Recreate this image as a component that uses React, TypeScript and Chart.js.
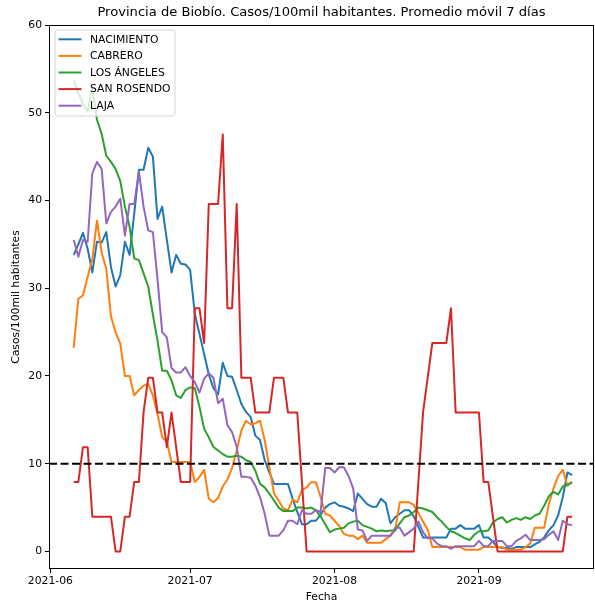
import React, { useEffect, useRef } from "react";
import { Chart, registerables } from "chart.js";

Chart.register(...registerables);

// x values are days counted from 2021-06-01; first data point is 2021-06-06
const FIRST_DAY = 5;
const X_MIN = -0.3;
const X_MAX = 116.7;
const TICK_DAYS = [0, 30, 61, 92];
const TICK_LABELS = ["2021-06", "2021-07", "2021-08", "2021-09"];
const Y_TICKS = [0, 10, 20, 30, 40, 50, 60];
const THRESHOLD = 10;

const TITLE = "Provincia de Biobío. Casos/100mil habitantes. Promedio móvil 7 días";
const X_TITLE = "Fecha";
const Y_TITLE = "Casos/100mil habitantes";

const SERIES_NAMES = ["NACIMIENTO", "CABRERO", "LOS ÁNGELES", "SAN ROSENDO", "LAJA"];
const COLORS = ["#1f77b4", "#ff7f0e", "#2ca02c", "#d62728", "#9467bd"];

const NACIMIENTO = [
  33.8, 35.0, 36.3, 34.5, 31.8, 35.3, 35.2, 36.4, 32.4, 30.2,
  31.5, 35.3, 33.8, 38.5, 43.5, 43.5, 46.0, 45.0, 37.9, 39.3,
  35.5, 31.8, 33.8, 32.8, 32.7, 32.1, 27.1, 24.8, 22.5, 20.2,
  18.6, 17.9, 21.5, 20.0, 19.9, 18.4, 16.8, 15.9, 15.3, 13.2,
  12.7, 10.4, 9.0, 7.7, 7.7, 7.7, 7.7, 6.0, 4.5, 3.1,
  3.1, 3.5, 3.5, 4.2, 5.0, 5.4, 5.6, 5.2, 5.1, 4.9,
  4.6, 6.6, 6.0, 5.4, 5.1, 5.1, 6.0, 5.5, 3.2, 3.9,
  4.3, 4.7, 4.7, 4.0, 2.8, 1.6, 1.6, 1.6, 1.6, 1.6,
  1.6, 2.6, 2.6, 3.0, 2.6, 2.6, 2.6, 3.0, 1.6, 1.6,
  1.1, 0.5, 0.4, 0.4, 0.3, 0.5, 0.5, 0.5, 0.5, 0.8,
  1.1, 1.6, 2.4, 3.0, 4.1, 6.2, 9.0, 8.7,
];

const CABRERO = [
  23.2, 28.8, 29.2, 31.3, 33.3, 37.7, 34.1, 32.2, 26.8, 25.0,
  23.7, 20.0, 20.0, 17.8, 18.4, 18.9, 19.1, 17.8, 15.7, 13.0,
  12.5, 10.2, 10.2, 10.2, 10.2, 10.2, 7.9, 8.5, 9.3, 6.0,
  5.6, 6.1, 7.4, 8.2, 9.5, 11.5, 13.8, 14.9, 14.5, 14.6,
  14.9, 12.7, 9.6, 6.6, 5.8, 4.9, 4.7, 5.9, 5.6, 7.0,
  7.3, 7.9, 7.9, 6.2, 4.3, 4.1, 3.5, 2.9, 2.0, 1.8,
  1.8, 1.4, 1.8, 1.0, 1.0, 1.0, 1.0, 1.4, 1.8, 2.4,
  5.6, 5.6, 5.6, 5.3, 4.4, 3.4, 2.5, 0.5, 0.5, 0.5,
  0.5, 0.5, 0.5, 0.5, 0.2, 0.2, 0.2, 0.2, 0.5, 0.5,
  0.5, 0.5, 0.5, 0.2, 0.2, 0.2, 0.2, 0.5, 0.9, 2.7,
  2.7, 2.7, 5.4, 7.2, 8.6, 9.3, 7.5, 7.9,
];

const LOS_ANGELES = [
  53.7, 52.3, 51.0, 50.1, 53.0, 49.2, 47.6, 45.1, 44.4, 43.6,
  42.2, 39.3, 37.0, 33.4, 33.2, 31.7, 30.2, 27.0, 24.0, 20.6,
  20.6, 19.5, 17.8, 17.5, 18.4, 18.7, 18.6, 16.5, 14.0, 13.0,
  11.9, 11.5, 11.1, 10.8, 10.8, 10.9, 10.8, 10.4, 10.2, 9.2,
  7.7, 7.3, 6.6, 5.8, 5.0, 4.6, 4.6, 4.6, 5.0, 5.0,
  4.9, 5.0, 4.7, 4.0, 3.1, 2.2, 2.5, 2.6, 2.7, 3.2,
  3.4, 3.5, 3.0, 2.8, 2.6, 2.3, 2.4, 2.3, 2.4, 2.4,
  3.2, 3.9, 4.1, 4.5, 5.0, 4.9, 4.7, 4.5, 3.9, 3.4,
  2.8, 2.3, 2.1, 1.8, 1.5, 1.3, 1.9, 2.3, 2.3, 2.4,
  3.3, 3.7, 3.9, 3.3, 3.6, 3.8, 3.6, 3.9, 3.7, 4.1,
  4.3, 5.2, 6.3, 6.8, 6.5, 7.4, 7.6, 7.9,
];

const SAN_ROSENDO = [
  7.92, 7.92, 11.88, 11.88, 3.96, 3.96, 3.96, 3.96, 3.96, 0,
  0, 3.96, 3.96, 7.92, 7.92, 15.84, 19.8, 19.8, 15.84, 15.84,
  11.88, 15.84, 11.88, 7.92, 7.92, 7.92, 27.72, 27.72, 23.76, 39.6,
  39.6, 39.6, 47.52, 27.72, 27.72, 39.6, 19.8, 19.8, 19.8, 15.84,
  15.84, 15.84, 15.84, 19.8, 19.8, 19.8, 15.84, 15.84, 15.84, 7.92,
  0, 0, 0, 0, 0, 0, 0, 0, 0, 0,
  0, 0, 0, 0, 0, 0, 0, 0, 0, 0,
  0, 0, 0, 0, 7.92, 15.84, 19.8, 23.76, 23.76, 23.76,
  23.76, 27.72, 15.84, 15.84, 15.84, 15.84, 15.84, 15.84, 7.92, 7.92,
  3.96, 0, 0, 0, 0, 0, 0, 0, 0, 0,
  0, 0, 0, 0, 0, 0, 3.96, 3.96,
];

const LAJA = [
  35.5, 33.6, 35.5, 35.3, 43.1, 44.4, 43.6, 37.4, 38.7, 39.3,
  40.2, 36.0, 39.6, 39.6, 43.3, 39.3, 36.6, 36.4, 31.0, 25.0,
  24.4, 20.9, 20.4, 20.4, 21.0, 20.0, 19.3, 18.1, 19.7, 20.3,
  19.8, 16.9, 17.4, 14.4, 13.6, 11.9, 8.5, 8.5, 8.4, 7.5,
  6.2, 4.3, 1.8, 1.8, 1.8, 2.4, 3.5, 3.5, 3.1, 4.7,
  4.3, 4.3, 4.7, 4.5, 9.5, 9.5, 9.0, 9.6, 9.6, 8.6,
  7.2, 2.5, 2.4, 1.2, 1.8, 1.8, 1.8, 1.8, 1.8, 2.7,
  2.7, 1.8, 2.2, 2.6, 3.4, 2.2, 1.5, 1.5, 0.9, 0.6,
  0.6, 0.3, 0.6, 0.6, 0.6, 0.6, 0.6, 1.2, 0.6, 0.6,
  1.2, 1.2, 1.2, 0.6, 0.6, 1.2, 1.5, 1.9, 1.3, 1.3,
  1.3, 1.4, 1.9, 2.3, 1.3, 3.5, 3.1, 3.0,
];

const SERIES = [NACIMIENTO, CABRERO, LOS_ANGELES, SAN_ROSENDO, LAJA];

const FONT = "DejaVu Sans";
const SMALL = 10.8;
const BIG = 13.1;

function toPoints(values: number[]) {
  return values.map((v, i) => ({ x: FIRST_DAY + i, y: v }));
}

const decorPlugin = {
  id: "decor",
  afterDatasetsDraw(chart: any) {
    const { ctx, chartArea: a } = chart;
    ctx.save();
    // frame (all four spines)
    ctx.strokeStyle = "#000";
    ctx.lineWidth = 1;
    const l = Math.round(a.left) + 0.5;
    const t = Math.round(a.top) + 0.5;
    const r = Math.round(a.right) - 0.5;
    const b = Math.round(a.bottom) - 0.5;
    ctx.strokeRect(l, t, r - l, b - t);

    // legend
    const lx = 55, ly = 30, lw = 120, lh = 86, rad = 3;
    ctx.beginPath();
    ctx.moveTo(lx + rad, ly);
    ctx.lineTo(lx + lw - rad, ly);
    ctx.arcTo(lx + lw, ly, lx + lw, ly + rad, rad);
    ctx.lineTo(lx + lw, ly + lh - rad);
    ctx.arcTo(lx + lw, ly + lh, lx + lw - rad, ly + lh, rad);
    ctx.lineTo(lx + rad, ly + lh);
    ctx.arcTo(lx, ly + lh, lx, ly + lh - rad, rad);
    ctx.lineTo(lx, ly + rad);
    ctx.arcTo(lx, ly, lx + rad, ly, rad);
    ctx.closePath();
    ctx.fillStyle = "rgba(255,255,255,0.8)";
    ctx.fill();
    ctx.strokeStyle = "#d6d6d6";
    ctx.lineWidth = 1;
    ctx.stroke();

    ctx.font = `${SMALL}px "${FONT}"`;
    ctx.textBaseline = "middle";
    ctx.textAlign = "left";
    SERIES_NAMES.forEach((name, i) => {
      const y = 39.3 + 16.6 * i;
      ctx.strokeStyle = COLORS[i];
      ctx.lineWidth = 2;
      ctx.beginPath();
      ctx.moveTo(58.5, y);
      ctx.lineTo(81.5, y);
      ctx.stroke();
      ctx.fillStyle = "#000";
      ctx.fillText(name, 90, y + 0.5);
    });

    // titles
    ctx.fillStyle = "#000";
    ctx.textAlign = "center";
    ctx.textBaseline = "middle";
    ctx.font = `${BIG}px "${FONT}"`;
    ctx.fillText(TITLE, (a.left + a.right) / 2, 13);
    ctx.font = `${SMALL}px "${FONT}"`;
    ctx.fillText(X_TITLE, (a.left + a.right) / 2, 597);
    ctx.translate(16, (a.top + a.bottom) / 2);
    ctx.rotate(-Math.PI / 2);
    ctx.fillText(Y_TITLE, 0, 0);
    ctx.restore();
  },
};

export default function App() {
  const canvasRef = useRef<HTMLCanvasElement | null>(null);

  useEffect(() => {
    document.body.style.margin = "0";
    const canvas = canvasRef.current;
    if (!canvas) return;

    const lineSets = SERIES.map((vals, i) => ({
      label: SERIES_NAMES[i],
      data: toPoints(vals),
      borderColor: COLORS[i],
      backgroundColor: COLORS[i],
      borderWidth: 2,
      pointRadius: 0,
      tension: 0,
      fill: false,
      borderJoinStyle: "round" as const,
      order: SERIES.length - i,
    }));

    const thresholdSet = {
      label: "umbral",
      data: [
        { x: X_MIN, y: THRESHOLD },
        { x: X_MAX, y: THRESHOLD },
      ],
      borderColor: "#000",
      borderWidth: 2,
      borderDash: [8, 3.5],
      pointRadius: 0,
      fill: false,
      order: 0,
    };

    const chart = new Chart(canvas, {
      type: "line",
      data: { datasets: [...lineSets, thresholdSet] as any },
      options: {
        animation: false,
        responsive: false,
        devicePixelRatio: 1,
        layout: { padding: { top: 25, right: 1, left: 0, bottom: 0 } },
        plugins: {
          legend: { display: false },
          title: { display: false },
          tooltip: { enabled: false },
        },
        scales: {
          x: {
            type: "linear",
            min: X_MIN,
            max: X_MAX,
            afterBuildTicks: (s: any) => {
              s.ticks = TICK_DAYS.map((v) => ({ value: v }));
            },
            afterFit: (s: any) => {
              s.height = 35;
            },
            ticks: {
              autoSkip: false,
              maxRotation: 0,
              padding: 2,
              color: "#000",
              font: { family: FONT, size: SMALL },
              callback: (_v: any, i: number) => TICK_LABELS[i],
            },
            grid: {
              display: true,
              drawOnChartArea: false,
              drawTicks: true,
              tickLength: 4,
              color: "#000",
              lineWidth: 1,
            },
            border: { display: false },
          },
          y: {
            type: "linear",
            min: -2,
            max: 60,
            afterBuildTicks: (s: any) => {
              s.ticks = Y_TICKS.map((v) => ({ value: v }));
            },
            afterFit: (s: any) => {
              s.width = 49;
            },
            ticks: {
              padding: 3,
              color: "#000",
              font: { family: FONT, size: SMALL },
              callback: (v: any) => String(v),
            },
            grid: {
              display: true,
              drawOnChartArea: false,
              drawTicks: true,
              tickLength: 4,
              color: "#000",
              lineWidth: 1,
            },
            border: { display: false },
          },
        },
      },
      plugins: [decorPlugin],
    });

    return () => chart.destroy();
  }, []);

  return (
    <div style={{ width: 595, height: 604 }}>
      <canvas ref={canvasRef} width={595} height={604} style={{ display: "block" }} />
    </div>
  );
}
